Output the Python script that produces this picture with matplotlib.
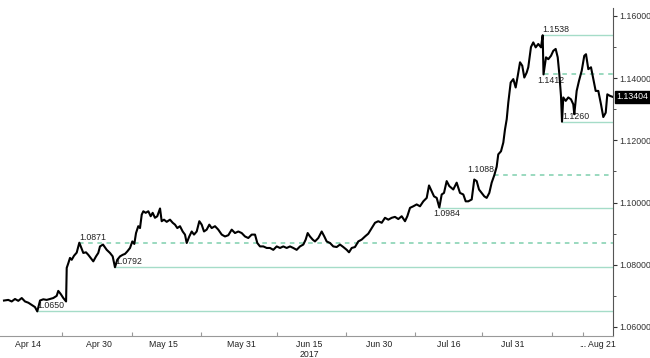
import matplotlib
matplotlib.use("Agg")
import matplotlib.pyplot as plt
import matplotlib.transforms as mtransforms

plt.rcParams['font.family'] = ['Liberation Sans', 'DejaVu Sans']

# business days counted from Apr 14 2017, and EUR/USD price
day = [-3.75, -3.08, -2.55, -2.03, -1.52, -0.98, -0.47, 0.05, 0.58, 1.09,
       1.45, 1.88, 2.39, 2.92, 3.44, 3.95, 4.48, 4.73, 5.11, 5.52,
       5.95, 6.05, 6.30, 6.56, 6.83, 7.19, 7.61, 8.02, 8.28, 8.64,
       9.06, 9.42, 9.80, 10.20, 10.63, 10.98, 11.25, 11.72, 12.30, 12.81,
       13.23, 13.59, 13.95, 14.38, 14.80, 15.16, 15.52, 15.94, 16.30, 16.61,
       16.88, 17.23, 17.50, 17.77, 18.02, 18.39, 18.80, 19.17, 19.48, 19.84,
       20.20, 20.63, 20.89, 21.25, 21.67, 22.19, 22.61, 22.97, 23.33, 23.75,
       24.17, 24.53, 24.80, 25.20, 25.58, 25.94, 26.36, 26.77, 27.14, 27.50,
       27.92, 28.33, 28.70, 29.22, 29.73, 30.27, 30.78, 31.30, 31.83, 32.34,
       32.86, 33.39, 33.91, 34.42, 34.95, 35.47, 35.83, 36.25, 36.77, 37.30,
       37.81, 38.33, 38.86, 39.38, 39.89, 40.42, 40.94, 41.45, 41.98, 42.50,
       43.02, 43.39, 43.70, 44.06, 44.48, 44.84, 45.36, 45.89, 46.30, 46.67,
       47.19, 47.70, 48.23, 48.75, 49.27, 49.80, 50.16, 50.58, 51.09, 51.61,
       52.14, 52.66, 53.17, 53.70, 54.22, 54.73, 55.27, 55.78, 56.30, 56.83,
       57.34, 57.86, 58.39, 58.91, 59.27, 59.69, 60.20, 60.73, 61.25, 61.77,
       62.30, 62.66, 63.08, 63.44, 63.86, 64.27, 64.64, 65.00, 65.42, 65.83,
       66.45, 66.98, 67.50, 68.02, 68.39, 68.80, 69.33, 69.73, 70.11, 70.47,
       70.89, 71.30, 71.67, 72.08, 72.45, 72.86, 73.23, 73.48, 73.91, 74.27,
       74.53, 74.80, 75.05, 75.42, 75.83, 76.20, 76.52, 76.88, 77.23, 77.55,
       77.92, 78.17, 78.59, 78.95, 79.33, 79.73, 80.16, 80.42, 80.55, 80.94,
       81.30, 81.72, 82.08, 82.45, 82.77, 83.02, 83.28, 83.44, 83.64, 84.02,
       84.42, 84.84, 85.20, 85.36, 85.73, 86.09, 86.52, 86.92, 87.19, 87.55,
       87.97, 88.33, 88.70, 89.11, 89.53, 89.89, 90.27, 90.52, 90.94, 91.30]
price = [1.0685, 1.0687, 1.0682, 1.0690, 1.0684, 1.0693, 1.0682, 1.0678, 1.0671, 1.0664,
         1.0650, 1.0685, 1.0689, 1.0687, 1.0690, 1.0693, 1.0700, 1.0716, 1.0706, 1.0693,
         1.0682, 1.0790, 1.0805, 1.0822, 1.0816, 1.0829, 1.0839, 1.0871, 1.0857, 1.0838,
         1.0840, 1.0832, 1.0822, 1.0811, 1.0827, 1.0838, 1.0859, 1.0865, 1.0848, 1.0838,
         1.0827, 1.0792, 1.0816, 1.0827, 1.0832, 1.0835, 1.0843, 1.0854, 1.0875, 1.0867,
         1.0902, 1.0924, 1.0918, 1.0961, 1.0972, 1.0967, 1.0972, 1.0956, 1.0967, 1.0951,
         1.0956, 1.0981, 1.0940, 1.0945, 1.0938, 1.0945, 1.0935, 1.0929, 1.0918, 1.0924,
         1.0907, 1.0897, 1.0870, 1.0891, 1.0907, 1.0897, 1.0907, 1.0940, 1.0929, 1.0907,
         1.0913, 1.0929, 1.0918, 1.0924, 1.0913, 1.0897, 1.0891, 1.0895, 1.0913, 1.0902,
         1.0907, 1.0902, 1.0891, 1.0886, 1.0897, 1.0897, 1.0870, 1.0859, 1.0859, 1.0854,
         1.0854, 1.0848, 1.0859, 1.0854, 1.0859, 1.0854, 1.0859, 1.0854, 1.0848, 1.0859,
         1.0865, 1.0881, 1.0902, 1.0891, 1.0881, 1.0875, 1.0886, 1.0907, 1.0891, 1.0875,
         1.0870, 1.0859, 1.0857, 1.0865, 1.0857, 1.0848, 1.0840, 1.0854, 1.0857, 1.0875,
         1.0881, 1.0891, 1.0900, 1.0918, 1.0935, 1.0940, 1.0935, 1.0951, 1.0945, 1.0951,
         1.0954, 1.0947, 1.0956, 1.0940, 1.0956, 1.0983, 1.0988, 1.0994, 1.0988, 1.1004,
         1.1015, 1.1055, 1.1036, 1.1020, 1.1015, 1.0984, 1.1026, 1.1031, 1.1069, 1.1053,
         1.1042, 1.1064, 1.1031, 1.1026, 1.1004, 1.1004, 1.1010, 1.1074, 1.1069, 1.1042,
         1.1031, 1.1020, 1.1015, 1.1031, 1.1064, 1.1088, 1.1115, 1.1155, 1.1165, 1.1193,
         1.1235, 1.1268, 1.1322, 1.1386, 1.1397, 1.1370, 1.1407, 1.1451, 1.1440, 1.1402,
         1.1418, 1.1435, 1.1500, 1.1515, 1.1499, 1.1510, 1.1499, 1.1538, 1.1412, 1.1467,
         1.1461, 1.1472, 1.1488, 1.1494, 1.1467, 1.1413, 1.1343, 1.1260, 1.1338, 1.1327,
         1.1338, 1.1332, 1.1316, 1.1284, 1.1359, 1.1391, 1.1424, 1.1472, 1.1477, 1.1429,
         1.1435, 1.1397, 1.1359, 1.1359, 1.1316, 1.1275, 1.1289, 1.1348, 1.1343, 1.13404]

# support / resistance levels: value, day it starts, dashed?, label side
levels = [1.0650, 1.0871, 1.0792, 1.0984, 1.1088, 1.1412, 1.1538, 1.1260]
level_start = [1.45, 8.02, 13.59, 64.27, 72.86, 80.55, 80.42, 83.44]
level_dashed = [False, True, False, False, True, True, False, False]
level_label_pos = ['above', 'above', 'above', 'below', 'above_left', 'below', 'above', 'above']

tick_days = [0, 11.1, 21.1, 33.3, 43.9, 54.8, 65.8, 75.8, 86.7, 89.7]
tick_labels = ['Apr 14', 'Apr 30', 'May 15', 'May 31', 'Jun 15\n2017', 'Jun 30',
               'Jul 16', 'Jul 31', '...', 'Aug 21']
sep_days = [5.3, 16.25, 27.0, 38.9, 49.7, 60.5, 70.9, 81.9, 86.7]
last_price = 1.13404

fig = plt.figure(figsize=(6.5, 3.58), dpi=100)
ax = fig.add_axes([0, 0.0615, 0.943, 0.9165])

for lv, st, dsh, pos in zip(levels, level_start, level_dashed, level_label_pos):
    if dsh:
        ax.hlines(lv, st, 91.4, colors='#7fcfae', lw=1.1, linestyles=(0, (3, 3)), zorder=1)
    else:
        ax.hlines(lv, st, 91.4, colors='#a5dcc8', lw=1.0, zorder=1)
    if pos == 'above':
        ax.text(st, lv + 0.0003, f'{lv:.4f}', fontsize=6.3, ha='left', va='bottom', color='#222')
    elif pos == 'above_left':
        ax.text(st, lv + 0.0003, f'{lv:.4f}', fontsize=6.3, ha='right', va='bottom', color='#222')
    else:
        ax.text(st - 0.9, lv - 0.0004, f'{lv:.4f}', fontsize=6.3, ha='left', va='top', color='#222')

ax.plot(day, price, color='black', lw=1.5, zorder=3)

ax.set_xlim(-4.375, 91.4)
ax.set_ylim(1.0571, 1.1626)

ax.yaxis.tick_right()
ax.set_yticks([1.06, 1.08, 1.10, 1.12, 1.14, 1.16])
ax.set_yticklabels([f'{v:.5f}' for v in [1.06, 1.08, 1.10, 1.12, 1.14, 1.16]])
ax.set_yticks([1.07, 1.09, 1.11, 1.13, 1.15], minor=True)
ax.tick_params(axis='y', which='major', length=3, labelsize=6.3, pad=1.5, colors='#333')
ax.tick_params(axis='y', which='minor', length=2, colors='#333')

ax.set_xticks(sep_days)
ax.set_xticklabels([])
ax.tick_params(axis='x', which='major', direction='in', length=3, color='#999')
for d, lab in zip(tick_days, tick_labels):
    ax.text(d, -0.012, lab, transform=mtransforms.blended_transform_factory(ax.transData, ax.transAxes),
            fontsize=6.3, ha='center', va='top', color='#222', linespacing=1.1)

for s in ['left', 'top']:
    ax.spines[s].set_visible(False)
ax.spines['bottom'].set_color('#999')
ax.spines['right'].set_color('#555')

ax.text(1.006, last_price, f'{last_price:.5f}',
        transform=mtransforms.blended_transform_factory(ax.transAxes, ax.transData),
        fontsize=6.3, ha='left', va='center', color='white',
        bbox=dict(boxstyle='square,pad=0.15', fc='black', ec='black'))

fig.savefig('out.png', dpi=100)
